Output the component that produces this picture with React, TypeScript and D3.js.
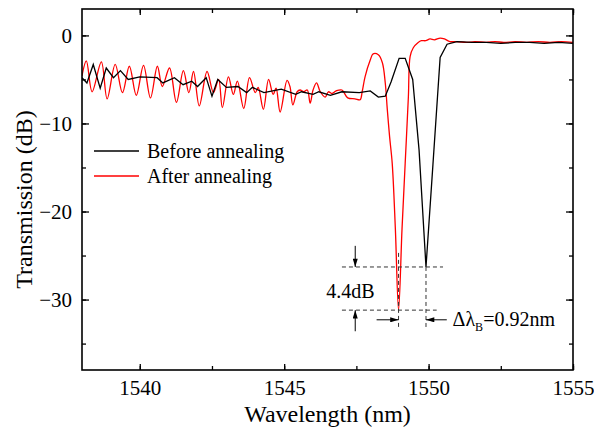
import React, { useEffect, useRef } from 'react';
import * as d3 from 'd3';

// Before annealing (black)
const beforeWl = [1538.00, 1538.17, 1538.39, 1538.63, 1538.84, 1539.09, 1539.33, 1539.60, 1540.00, 1540.60, 1540.80, 1541.20, 1541.50, 1541.80, 1542.00, 1542.30, 1542.50, 1542.70, 1543.00, 1543.40, 1543.70, 1543.90, 1544.30, 1544.90, 1545.40, 1545.60, 1546.00, 1546.20, 1546.60, 1547.00, 1547.60, 1547.98, 1548.26, 1548.50, 1548.70, 1548.98, 1549.19, 1549.45, 1549.67, 1549.91, 1550.15, 1550.40, 1550.64, 1550.98, 1551.5, 1552.0, 1552.5, 1553.0, 1553.5, 1554.0, 1554.5, 1555.0];
const beforeDb = [-4.8, -5.4, -3.3, -6.0, -3.7, -4.8, -4.0, -5.0, -4.7, -4.8, -5.4, -4.8, -5.6, -5.2, -5.8, -4.8, -6.9, -5.0, -5.9, -5.8, -6.5, -5.9, -6.5, -6.1, -6.7, -6.4, -6.7, -6.4, -6.8, -6.4, -6.5, -6.3, -7.0, -6.9, -5.3, -2.6, -2.6, -5.0, -13.0, -26.3, -14.7, -2.5, -1.0, -0.7, -0.8, -0.8, -0.9, -0.8, -0.8, -0.9, -0.8, -0.9];

// After annealing (red)
const afterWl = [1538.00, 1538.15, 1538.35, 1538.67, 1538.87, 1539.15, 1539.40, 1539.64, 1539.88, 1540.13, 1540.37, 1540.61, 1540.78, 1541.03, 1541.27, 1541.51, 1541.70, 1541.86, 1542.06, 1542.33, 1542.55, 1542.73, 1542.86, 1543.07, 1543.24, 1543.38, 1543.60, 1543.80, 1544.00, 1544.10, 1544.28, 1544.46, 1544.62, 1544.72, 1544.86, 1545.10, 1545.20, 1545.30, 1545.45, 1545.55, 1545.68, 1545.80, 1545.90, 1546.00, 1546.12, 1546.25, 1546.42, 1546.53, 1546.65, 1546.80, 1547.00, 1547.20, 1547.45, 1547.63, 1547.70, 1547.80, 1547.98, 1548.08, 1548.26, 1548.40, 1548.50, 1548.57, 1548.65, 1548.74, 1548.85, 1548.96, 1549.08, 1549.19, 1549.30, 1549.36, 1549.47, 1549.64, 1549.75, 1549.90, 1550.05, 1550.20, 1550.40, 1550.55, 1550.74, 1551.0, 1551.3, 1551.6, 1552.0, 1552.3, 1552.6, 1553.0, 1553.4, 1553.8, 1554.2, 1554.6, 1555.0];
const afterDb = [-4.6, -2.9, -6.4, -3.0, -7.2, -3.3, -6.5, -3.5, -6.8, -3.4, -7.1, -3.5, -5.8, -3.7, -7.6, -4.0, -6.5, -4.1, -8.0, -4.1, -6.5, -5.0, -8.2, -4.7, -6.7, -5.2, -8.3, -4.8, -6.5, -5.9, -8.4, -5.0, -6.7, -6.0, -8.7, -5.1, -5.8, -7.9, -6.4, -6.2, -6.4, -6.2, -7.7, -6.2, -5.4, -6.4, -7.0, -6.4, -6.6, -6.3, -6.2, -7.1, -7.2, -7.3, -6.4, -4.7, -2.8, -2.1, -2.2, -3.1, -5.4, -8.4, -11.5, -14.5, -22.0, -31.2, -22.0, -14.5, -7.0, -2.4, -1.4, -0.8, -0.6, -0.6, -0.4, -0.5, -0.3, -0.4, -0.7, -0.7, -0.8, -0.7, -0.8, -0.7, -0.8, -0.7, -0.8, -0.7, -0.8, -0.7, -0.8];

const xTicks = [1540, 1545, 1550, 1555];
const yTicks = [0, -10, -20, -30];
const legendNames = ['Before annealing', 'After annealing'];

// annotation values: dips and wavelength shift
const dipBefore = { wl: 1549.91, db: -26.3 };
const dipAfter = { wl: 1548.96, db: -31.2 };

export default function App() {
  const ref = useRef<SVGSVGElement>(null);

  useEffect(() => {
    const W = 594, H = 433;
    const m = { left: 82, top: 9, right: 21, bottom: 63 };
    const iw = W - m.left - m.right;
    const ih = H - m.top - m.bottom;
    const font = '"Liberation Serif", "Times New Roman", serif';

    const svg = d3.select(ref.current);
    svg.selectAll('*').remove();
    svg.attr('width', W).attr('height', H).style('background', '#fff');

    const defs = svg.append('defs');
    defs.append('marker')
      .attr('id', 'arr')
      .attr('viewBox', '0 0 10 6')
      .attr('refX', 10).attr('refY', 3)
      .attr('markerWidth', 9).attr('markerHeight', 5)
      .attr('markerUnits', 'userSpaceOnUse')
      .attr('orient', 'auto')
      .append('path').attr('d', 'M0,0L10,3L0,6Z').attr('fill', '#000');
    defs.append('clipPath').attr('id', 'clip')
      .append('rect').attr('width', iw).attr('height', ih);

    const x = d3.scaleLinear().domain([1538, 1555]).range([0, iw]);
    const y = d3.scaleLinear().domain([-38, 3]).range([ih, 0]);

    const g = svg.append('g').attr('transform', `translate(${m.left},${m.top})`);

    const styleAxis = (sel: any) => {
      sel.select('.domain').remove();
      sel.selectAll('line').attr('stroke', '#000').attr('stroke-width', 1.3);
      sel.selectAll('text').attr('font-family', font).attr('font-size', 21).attr('fill', '#000');
    };

    const minorX = d3.range(1537.5, 1555.1, 2.5).filter(v => v >= 1538);
    const minorY = d3.range(-35, 3, 5);

    // bottom
    g.append('g').attr('transform', `translate(0,${ih})`)
      .call(d3.axisBottom(x).tickValues(xTicks).tickSize(-6).tickPadding(10).tickFormat(d3.format('d')))
      .call(styleAxis);
    g.append('g').attr('transform', `translate(0,${ih})`)
      .call(d3.axisBottom(x).tickValues(minorX).tickSize(-4).tickFormat(() => ''))
      .call(styleAxis);
    // top
    g.append('g')
      .call(d3.axisTop(x).tickValues(minorX).tickSize(-4).tickFormat(() => ''))
      .call(styleAxis);
    g.append('g')
      .call(d3.axisTop(x).tickValues(xTicks).tickSize(-6).tickFormat(() => ''))
      .call(styleAxis);
    // left
    g.append('g')
      .call(d3.axisLeft(y).tickValues(yTicks).tickSize(-7).tickPadding(10).tickFormat(d3.format('d')))
      .call(styleAxis);
    g.append('g')
      .call(d3.axisLeft(y).tickValues(minorY).tickSize(-4).tickFormat(() => ''))
      .call(styleAxis);
    // right
    g.append('g').attr('transform', `translate(${iw},0)`)
      .call(d3.axisRight(y).tickValues(minorY).tickSize(-4).tickFormat(() => ''))
      .call(styleAxis);
    g.append('g').attr('transform', `translate(${iw},0)`)
      .call(d3.axisRight(y).tickValues(yTicks).tickSize(-7).tickFormat(() => ''))
      .call(styleAxis);

    // curves
    const before = beforeWl.map((w, i) => [w, beforeDb[i]] as [number, number]);
    const after = afterWl.map((w, i) => [w, afterDb[i]] as [number, number]);

    const lineLin = d3.line<[number, number]>().x(d => x(d[0])).y(d => y(d[1]));
    const lineSmooth = d3.line<[number, number]>().x(d => x(d[0])).y(d => y(d[1])).curve(d3.curveCatmullRom.alpha(0.5));

    const plot = g.append('g').attr('clip-path', 'url(#clip)');
    plot.append('path').datum(after).attr('d', lineSmooth)
      .attr('fill', 'none').attr('stroke', '#ff0000').attr('stroke-width', 1.3);
    plot.append('path').datum(before).attr('d', lineLin)
      .attr('fill', 'none').attr('stroke', '#000').attr('stroke-width', 1.3);

    // frame
    g.append('rect').attr('width', iw).attr('height', ih)
      .attr('fill', 'none').attr('stroke', '#000').attr('stroke-width', 1.6);

    // annotations
    const dash = '4,3';
    const ann = g.append('g').attr('stroke', '#333').attr('stroke-width', 1).attr('stroke-dasharray', dash);
    ann.append('line')
      .attr('x1', x(1547.0)).attr('x2', x(1550.5))
      .attr('y1', y(dipBefore.db)).attr('y2', y(dipBefore.db));
    ann.append('line')
      .attr('x1', x(1547.0)).attr('x2', x(1550.28))
      .attr('y1', y(dipAfter.db)).attr('y2', y(dipAfter.db));
    ann.append('line')
      .attr('x1', x(dipAfter.wl)).attr('x2', x(dipAfter.wl))
      .attr('y1', y(-24.7)).attr('y2', y(-33.4));
    ann.append('line')
      .attr('x1', x(dipBefore.wl)).attr('x2', x(dipBefore.wl))
      .attr('y1', y(dipBefore.db)).attr('y2', y(-33.4));

    const arrows = g.append('g').attr('stroke', '#000').attr('stroke-width', 1);
    const ax = x(1547.46);
    arrows.append('line').attr('x1', ax).attr('x2', ax)
      .attr('y1', y(-23.9)).attr('y2', y(dipBefore.db)).attr('marker-end', 'url(#arr)');
    arrows.append('line').attr('x1', ax).attr('x2', ax)
      .attr('y1', y(-33.6)).attr('y2', y(dipAfter.db)).attr('marker-end', 'url(#arr)');
    const ay = y(-32.3);
    arrows.append('line').attr('x1', x(1548.2)).attr('x2', x(dipAfter.wl))
      .attr('y1', ay).attr('y2', ay).attr('marker-end', 'url(#arr)');
    arrows.append('line').attr('x1', x(1550.63)).attr('x2', x(dipBefore.wl))
      .attr('y1', ay).attr('y2', ay).attr('marker-end', 'url(#arr)');

    g.append('text')
      .attr('x', x(1546.46)).attr('y', y(-29.8))
      .attr('font-family', font).attr('font-size', 20)
      .text('4.4dB');

    const dl = g.append('text')
      .attr('x', x(1550.83)).attr('y', y(-33.0))
      .attr('font-family', font).attr('font-size', 20);
    dl.append('tspan').text('Δλ');
    dl.append('tspan').attr('font-size', 12).attr('dy', 5).text('B');
    dl.append('tspan').attr('dy', -5).text('=0.92nm');

    // legend
    const colors = ['#000', '#ff0000'];
    legendNames.forEach((name, i) => {
      const ly = 151 + i * 25 - m.top;
      g.append('line').attr('x1', 94 - m.left).attr('x2', 139 - m.left)
        .attr('y1', ly).attr('y2', ly)
        .attr('stroke', colors[i]).attr('stroke-width', 1.3);
      g.append('text').attr('x', 147 - m.left).attr('y', ly + 7)
        .attr('font-family', font).attr('font-size', 20).attr('fill', '#000')
        .text(name);
    });

    // axis titles
    svg.append('text')
      .attr('x', m.left + iw / 2).attr('y', 422)
      .attr('text-anchor', 'middle')
      .attr('font-family', font).attr('font-size', 24)
      .text('Wavelength (nm)');
    svg.append('text')
      .attr('transform', `translate(32,${m.top + ih / 2 + 10}) rotate(-90)`)
      .attr('text-anchor', 'middle')
      .attr('font-family', font).attr('font-size', 24)
      .text('Transmission (dB)');
  });

  return (
    <div>
      <svg ref={ref} style={{ position: 'absolute', left: 0, top: 0 }}></svg>
    </div>
  );
}
